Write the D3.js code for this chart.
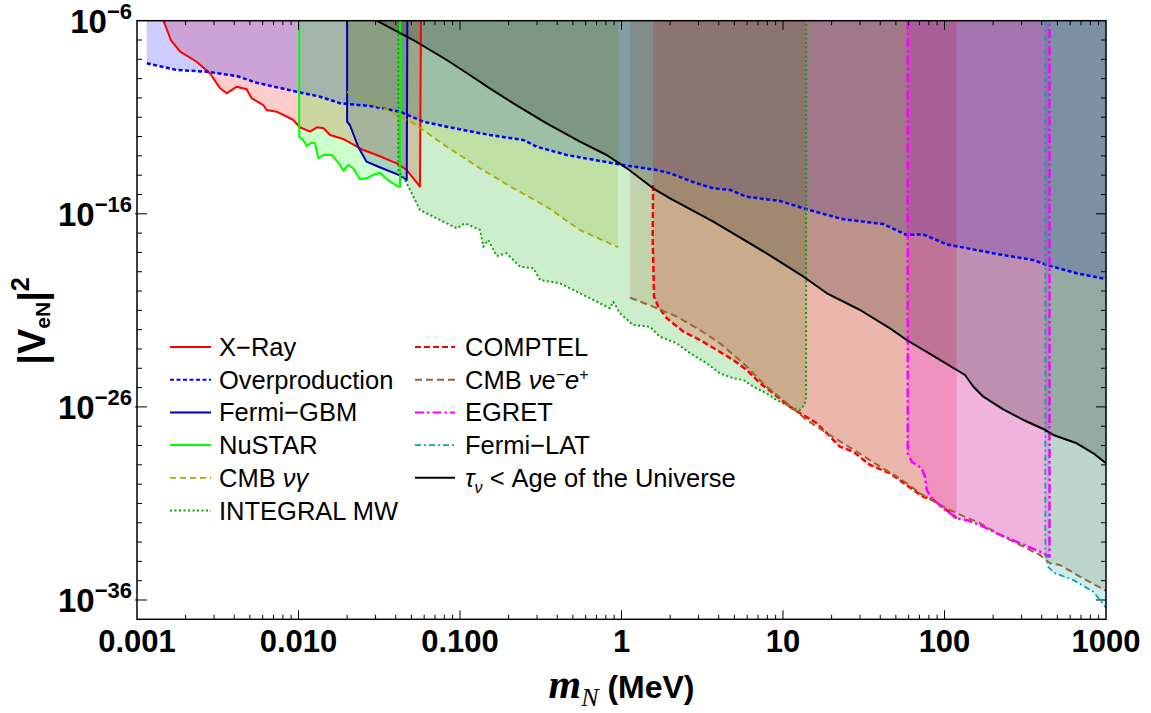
<!DOCTYPE html>
<html><head><meta charset="utf-8">
<script src="https://cdn.jsdelivr.net/npm/d3@7"></script>
<style>body{margin:0;background:#fff}svg{display:block}</style>
</head><body>
<svg id="chart" width="1151" height="713"></svg>
<script>
// ---- data: [m_N (MeV), |V_eN|^2] ----
const overproduction = [[1.15e-3,6.2e-9],[1.76e-3,2.8e-9],[2.7e-3,2.29e-9],[4.14e-3,1.37e-9],[5.5e-3,6.15e-10],[9.75e-3,2.1e-10],[0.0136,1.16e-10],[0.0181,5.27e-11],[0.0277,3.83e-11],[0.0425,1.94e-11],[0.0593,5.89e-12],[0.0828,3.24e-12],[0.153,1.2e-12],[0.247,6.63e-13],[0.298,2.98e-13],[0.458,1.11e-13],[0.889,4.12e-14],[1.08,3.1e-14],[1.65,1.85e-14],[2.0,1.25e-14],[2.92,3.79e-15],[3.70,2.09e-15],[4.70,1.71e-15],[5.96,7.69e-16],[9.57,4.6e-16],[14.0,1.71e-16],[23.6,5.19e-17],[41.6,2.96e-17],[58.3,7.98e-18],[73.6,8.67e-18],[103,2.63e-18],[200,9.0e-19],[353,4.05e-19],[430,2.23e-19],[659,8.3e-20],[1000,4.2e-20]];
const xray = [[1.46e-3,1e-6],[1.62e-3,1e-7],[1.85e-3,2.48e-8],[2.34e-3,7.5e-9],[2.83e-3,1.89e-9],[3.27e-3,3.15e-10],[3.59e-3,1.74e-10],[4.14e-3,3.82e-10],[4.77e-3,2.8e-10],[5.13e-3,9.57e-11],[6.05e-3,4.3e-11],[6.35e-3,2.37e-11],[7.33e-3,1.94e-11],[9.29e-3,7.2e-12],[0.0102,3.02e-12],[0.0118,1.79e-12],[0.0130,3.02e-12],[0.0143,2.68e-12],[0.0157,1.2e-12],[0.0189,7.48e-13],[0.0252,2.01e-13],[0.0305,1.11e-13],[0.0406,4.12e-14],[0.0468,1.85e-14],[0.0565,2.53e-15],[0.0573,1e-6]];
const fermiGBM = [[0.0200,1e-6],[0.0200,5.89e-12],[0.0208,3.97e-12],[0.0234,2.98e-13],[0.0264,4.99e-14],[0.0305,2.99e-14],[0.0360,1.7e-14],[0.0406,1.15e-14],[0.0468,5.62e-15],[0.0472,1e-6]];
const nustar = [[0.0101,1e-6],[0.0101,9.84e-13],[0.0107,6.63e-13],[0.01125,3.24e-13],[0.0121,4.81e-13],[0.01265,4.48e-13],[0.01327,7.48e-14],[0.01425,1.11e-13],[0.01607,1.11e-13],[0.0181,3.37e-14],[0.0189,1.7e-14],[0.0203,3.37e-14],[0.0218,2.27e-14],[0.0240,6.12e-15],[0.0264,6.89e-15],[0.0290,1.02e-14],[0.0320,1.34e-14],[0.0335,9.06e-15],[0.0369,4.59e-15],[0.0415,2.53e-15],[0.0425,2.53e-15],[0.0425,1e-6]];
const cmbNuGamma = [[0.0200,2.1e-10],[0.0252,7.82e-11],[0.0320,3.52e-11],[0.0406,1.31e-11],[0.0514,4.86e-12],[0.0828,2.98e-13],[0.133,2.27e-14],[0.214,2.09e-15],[0.344,2.33e-16],[0.553,1.45e-17],[0.955,1.84e-18]];
const integralMW = [[0.0415,1e-6],[0.0415,1.51e-14],[0.0446,8.34e-15],[0.0514,7.69e-16],[0.0565,1.57e-16],[0.0684,7.08e-17],[0.0955,1.77e-17],[0.1074,3.22e-17],[0.133,1.45e-17],[0.1395,1.98e-18],[0.1496,4.4e-18],[0.1687,6.53e-19],[0.1945,9.0e-19],[0.2355,1.82e-19],[0.2845,1.51e-19],[0.313,3.73e-20],[0.416,2.52e-20],[0.553,7.64e-21],[0.736,2.32e-21],[0.849,1.28e-21],[0.889,2.8e-21],[0.98,7.03e-22],[1.18,1.74e-22],[1.50,1.42e-22],[1.73,4.32e-23],[2.20,1.97e-23],[2.66,5.97e-24],[3.37,1.81e-24],[4.07,5.5e-25],[4.92,3.03e-25],[5.68,2.47e-25],[6.55,1.11e-25],[7.92,5.06e-26],[9.14,2.28e-26],[11.0,1.02e-26],[12.7,6.9e-27],[13.6,1.3e-26],[13.9,3e-26],[13.9,1e-6]];
const comptel = [[1.57,3.1e-15],[1.56,6.52e-18],[1.59,5.09e-21],[1.69,1.55e-21],[1.91,3.87e-22],[2.42,7.83e-23],[3.06,2.91e-23],[3.89,8.85e-24],[4.92,2.69e-24],[5.96,8.15e-25],[7.21,1.67e-25],[8.71,5.06e-26],[11.0,1.02e-26],[12.7,4.83e-27],[16.2,1.42e-27],[22.5,8.7e-29],[27.2,4.79e-29],[34.6,9.8e-30],[46.0,3.64e-30],[64.1,4.97e-31],[73.9,2.23e-31],[85.3,1.51e-31],[103,4.57e-32],[119,1.7e-32]];
const cmbNuEE = [[1.13,4.52e-21],[1.57,1.55e-21],[2.20,4.69e-22],[3.06,9.6e-23],[4.07,1.97e-23],[5.68,1.81e-24],[7.92,1.11e-25],[10.0,2.28e-26],[14.0,2.09e-27],[18.7,4.3e-28],[28.6,4.79e-29],[39.9,8.0e-30],[53.0,2.0e-30],[70.5,3.35e-31],[89.5,1.02e-31],[119,3.09e-32],[166,9.37e-33],[221,2.32e-33],[294,7.05e-34],[390,2.14e-34],[450,7.94e-35],[519,6.49e-35],[690,1.61e-35],[1000,3.0e-36]];
const egret = [[59.2,1e-6],[59.2,3.96e-29],[62.7,1.45e-29],[72.3,6.6e-30],[75.7,2.43e-30],[77.6,4.97e-31],[83.4,1.85e-31],[98.4,5.61e-32],[119,1.7e-32],[137,1.39e-32],[166,7.64e-33],[211,2.84e-33],[294,8.63e-34],[390,3.17e-34],[447,1.75e-34],[447,1e-6]];
const fermiLAT = [[421,1e-6],[421,2.72e-34],[440,5.12e-35],[472,2.65e-35],[628,1.08e-35],[834,2.69e-36],[1000,4.0e-37]];
const tauAge = [[0.0305,1e-6],[0.0514,1e-7],[0.0828,9.23e-9],[0.115,1.54e-9],[0.153,3.15e-10],[0.214,5.27e-11],[0.344,4.86e-12],[0.553,5.42e-13],[0.809,1.11e-13],[1.08,2.27e-14],[1.57,2.09e-15],[2.0,6.35e-16],[3.70,3.9e-17],[7.92,9.0e-19],[13.4,5.53e-20],[18.7,7.64e-21],[30.0,1.04e-21],[46.0,1.17e-22],[58.3,2.91e-23],[93.8,2.69e-24],[119,8.15e-25],[134,4.49e-25],[151,1.11e-25],[174,3.37e-26],[231,7.52e-27],[308,2.1e-27],[409,7.18e-28],[472,3.51e-28],[659,1.3e-28],[836,3.96e-29],[1000,1.2e-29]];

const xTicks = [0.001,0.01,0.1,1,10,100,1000];
const xTickLabels = ["0.001","0.010","0.100","1","10","100","1000"];
const yTicks = [1e-6,1e-16,1e-26,1e-36];
const yTickExps = ["\u22126","\u221216","\u221226","\u221236"];

const series = [
  {key:"X\u2212Ray", data:xray, color:"rgb(255,0,0)", dash:null, w:2},
  {key:"Overproduction", data:overproduction, color:"rgb(0,0,255)", dash:"4,2.5", w:2.5},
  {key:"Fermi\u2212GBM", data:fermiGBM, color:"rgb(0,0,170)", dash:null, w:2},
  {key:"NuSTAR", data:nustar, color:"rgb(0,255,0)", dash:null, w:2},
  {key:"CMB \u03bd\u03b3", data:cmbNuGamma, color:"rgb(170,170,0)", dash:"6,4", w:1.8},
  {key:"INTEGRAL MW", data:integralMW, color:"rgb(0,170,0)", dash:"2,2.5", w:2},
  {key:"COMPTEL", data:comptel, color:"rgb(255,0,0)", dash:"6,3", w:2.5},
  {key:"CMB \u03bde\u2212e+", data:cmbNuEE, color:"rgb(153,102,51)", dash:"7,4", w:2},
  {key:"EGRET", data:egret, color:"rgb(255,0,255)", dash:"9,3,2.5,3", w:2.5},
  {key:"Fermi\u2212LAT", data:fermiLAT, color:"rgb(0,170,170)", dash:"6,3,2,3", w:1.8},
  {key:"tau", data:tauAge, color:"rgb(0,0,0)", dash:null, w:2}
];

const svg = d3.select("#chart");
const L=137, R=1106, T=20.7, B=619.3;
const x = d3.scaleLog().domain([1e-3,1e3]).range([L,R]);
const y = d3.scaleLog().domain([1e-6,1e-37]).range([T,B]);

svg.append("defs").append("clipPath").attr("id","clip")
  .append("rect").attr("x",L).attr("y",T).attr("width",R-L).attr("height",B-T);

const plot = svg.append("g").attr("clip-path","url(#clip)");
const line = d3.line().x(d=>x(d[0])).y(d=>y(d[1]));
const topV = y.domain()[0];

// fills (to top)
series.forEach(s=>{
  const pts = s.data.slice();
  if (pts[0][1] !== topV) pts.unshift([pts[0][0], topV]);
  const last = pts[pts.length-1];
  if (last[1] !== topV) pts.push([last[0], topV]);
  plot.append("path").attr("d", line(pts)+"Z")
    .attr("fill", s.color).attr("fill-opacity",0.2).attr("stroke","none");
});
// lines
series.forEach(s=>{
  plot.append("path").attr("d", line(s.data)).attr("fill","none")
    .attr("stroke", s.color).attr("stroke-width", s.w)
    .attr("stroke-dasharray", s.dash).attr("stroke-linejoin","round");
});

// frame
svg.append("rect").attr("x",L).attr("y",T).attr("width",R-L).attr("height",B-T)
  .attr("fill","none").attr("stroke","#000").attr("stroke-width",1.5);

// ticks
const ax = svg.append("g").attr("stroke","#000").attr("stroke-width",1);
for (let e=-3;e<3;e++){
  for (let k=1;k<10;k++){
    const v = k*Math.pow(10,e), px = x(v), len = k===1?9:4.5;
    if (k===1 && e===-3) continue;
    ax.append("line").attr("x1",px).attr("x2",px).attr("y1",B).attr("y2",B-len);
    ax.append("line").attr("x1",px).attr("x2",px).attr("y1",T).attr("y2",T+len);
  }
}
for (let e=-7;e>=-36;e--){
  const v = Math.pow(10,e), py = y(v), major = ((-e-6)%10===0);
  const len = major?10:5;
  ax.append("line").attr("x1",L - (major?2:0)).attr("x2",L+len).attr("y1",py).attr("y2",py);
  ax.append("line").attr("x1",R).attr("x2",R-len).attr("y1",py).attr("y2",py);
}

// x tick labels
const font = "'Liberation Sans', Arial, Helvetica, sans-serif";
xTicks.forEach((v,i)=>{
  svg.append("text").attr("x",x(v)).attr("y",652).attr("text-anchor","middle")
    .attr("font-family",font).attr("font-weight","bold").attr("font-size",31)
    .text(xTickLabels[i]);
});
// y tick labels
yTicks.forEach((v,i)=>{
  const t = svg.append("text").attr("x",132).attr("y",y(v)+12).attr("text-anchor","end")
    .attr("font-family",font).attr("font-weight","bold").attr("font-size",33);
  t.append("tspan").text("10");
  t.append("tspan").attr("dy",-14).attr("font-size",22).text(yTickExps[i]);
});

// axis titles
const xt = svg.append("text").attr("x",(L+R)/2).attr("y",698).attr("text-anchor","middle")
  .attr("font-family",font).attr("font-weight","bold").attr("font-size",32);
xt.append("tspan").attr("font-family","'Liberation Serif', 'Times New Roman', serif")
  .attr("font-style","italic").attr("font-size",42).text("m");
xt.append("tspan").attr("font-family","'Liberation Serif', 'Times New Roman', serif")
  .attr("font-style","italic").attr("font-weight","normal").attr("font-size",26).attr("dy",8).text("N");
xt.append("tspan").attr("dy",-8).text(" (MeV)");

const yt = svg.append("text").attr("transform","translate(45,321) rotate(-90)")
  .attr("text-anchor","middle").attr("font-family",font).attr("font-weight","bold").attr("font-size",38);
yt.append("tspan").text("|V");
yt.append("tspan").attr("font-size",21).attr("dy",5).text("eN");
yt.append("tspan").attr("dy",-5).text("|");
yt.append("tspan").attr("font-size",25).attr("dy",-16).text("2");

// legend
const legendRich = {
  "CMB \u03bd\u03b3": [["CMB ",""],["\u03bd\u03b3","i"]],
  "CMB \u03bde\u2212e+": [["CMB ",""],["\u03bd","i"],["e",""],["\u2212","sup"],["e","i"],["+","sup"]],
  "tau": [["\u03c4","i"],["\u03bd","sub"],[" < Age of the Universe",""]]
};
const lg = svg.append("g");
const rowY0 = 347, rowStep = 32.7;
series.forEach((s,i)=>{
  const col = i<6?0:1, row = i<6?i:i-6;
  const cy = rowY0 + row*rowStep;
  const lx0 = col===0?170:415, lx1 = col===0?211:455, tx = col===0?219:465;
  lg.append("line").attr("x1",lx0).attr("x2",lx1).attr("y1",cy).attr("y2",cy)
    .attr("stroke",s.color).attr("stroke-width",Math.min(s.w,2)).attr("stroke-dasharray",s.dash);
  const t = lg.append("text").attr("x",tx).attr("y",cy+9)
    .attr("font-family",font).attr("font-size",25.5).attr("fill","#000");
  const rich = legendRich[s.key];
  if (!rich) { t.text(s.key); return; }
  let shift = 0;
  rich.forEach(([str,st])=>{
    const sp = t.append("tspan").text(str);
    let dy = 0;
    if (st==="i") sp.attr("font-style","italic");
    if (st==="sup"){ sp.attr("font-size",16); dy = -9; }
    if (st==="sub"){ sp.attr("font-size",16).attr("font-style","italic"); dy = 6; }
    sp.attr("dy", dy - shift); shift = dy;
  });
});
</script>
</body></html>
